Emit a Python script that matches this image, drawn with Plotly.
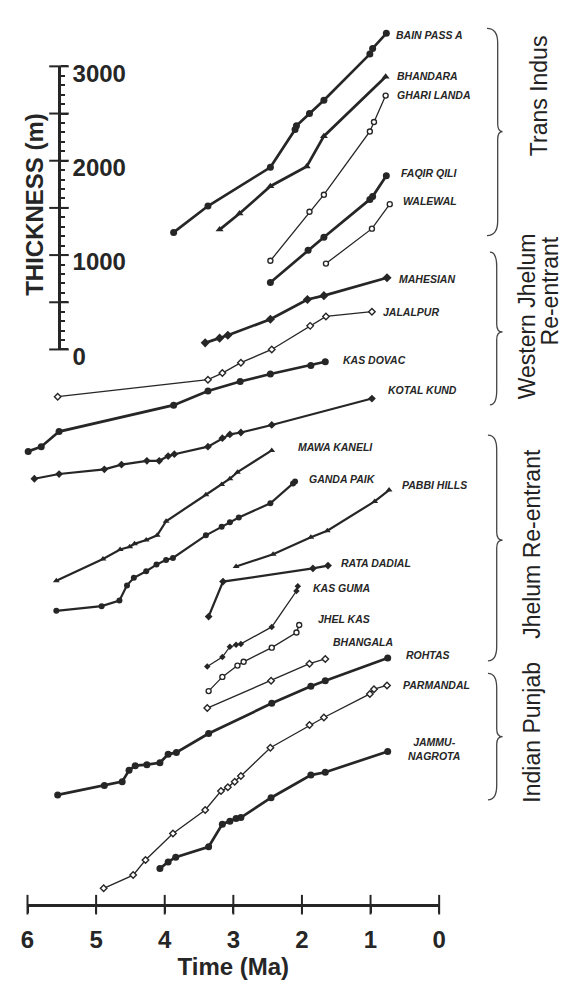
import plotly.graph_objects as go

# ---------------- data (time in Ma, stacked thickness position in m) ----------------
bain_t = [3.87, 3.37, 2.46, 2.10, 2.08, 1.89, 1.68, 1.01, 0.97, 0.77]
bain_m = [1240, 1520, 1930, 2330, 2370, 2500, 2640, 3130, 3190, 3350]
bhandara_t = [3.20, 2.91, 2.46, 1.93, 1.68, 0.78]
bhandara_m = [1270, 1440, 1730, 1940, 2260, 2890]
ghari_t = [2.46, 1.89, 1.68, 1.01, 0.95, 0.78]
ghari_m = [940, 1460, 1640, 2310, 2410, 2690]
faqir_t = [2.46, 1.91, 1.68, 1.01, 0.97, 0.77]
faqir_m = [710, 1050, 1190, 1590, 1620, 1840]
walewal_t = [1.65, 0.98, 0.72]
walewal_m = [910, 1280, 1540]
mahesian_t = [3.41, 3.20, 3.08, 2.46, 1.92, 1.68, 0.76]
mahesian_m = [70, 120, 150, 320, 530, 570, 760]
jalalpur_t = [5.56, 3.37, 3.16, 2.89, 2.44, 1.88, 1.65, 0.98]
jalalpur_m = [-500, -320, -250, -140, 0, 250, 350, 400]
kasdovac_t = [5.99, 5.80, 5.54, 3.87, 3.37, 2.90, 2.46, 1.87, 1.66]
kasdovac_m = [-1080, -1030, -870, -590, -440, -340, -260, -170, -130]
kotal_t = [5.90, 5.54, 4.88, 4.63, 4.26, 4.08, 3.95, 3.86, 3.37, 3.16, 3.05, 2.89, 2.44, 0.98]
kotal_m = [-1370, -1320, -1270, -1220, -1180, -1180, -1130, -1110, -1030, -940, -900, -880, -800, -520]
mawa_t = [5.58, 4.90, 4.65, 4.51, 4.44, 4.27, 4.11, 3.98, 3.40, 3.17, 3.05, 2.94, 2.44]
mawa_m = [-2450, -2220, -2120, -2090, -2060, -2020, -1970, -1820, -1540, -1430, -1370, -1300, -1070]
ganda_t = [5.58, 4.92, 4.66, 4.55, 4.45, 4.27, 4.12, 3.98, 3.88, 3.40, 3.17, 3.05, 2.92, 2.46, 2.13, 2.10]
ganda_m = [-2770, -2720, -2660, -2500, -2420, -2350, -2280, -2230, -2210, -1970, -1880, -1830, -1780, -1630, -1420, -1400]
pabbi_t = [2.96, 2.42, 1.87, 1.63, 0.94, 0.73]
pabbi_m = [-2300, -2170, -1990, -1920, -1610, -1490]
rata_t = [3.36, 3.15, 1.84, 1.62]
rata_m = [-2830, -2460, -2320, -2290]
kasguma_t = [3.38, 3.16, 3.05, 2.96, 2.89, 2.44, 2.08, 2.06]
kasguma_m = [-3360, -3260, -3150, -3130, -3120, -2940, -2560, -2510]
jhelkas_t = [3.36, 3.16, 2.94, 2.85, 2.44, 2.08, 2.04]
jhelkas_m = [-3620, -3470, -3350, -3310, -3160, -3000, -2920]
bhangala_t = [3.38, 2.45, 1.89, 1.66]
bhangala_m = [-3800, -3510, -3330, -3280]
rohtas_t = [5.56, 4.88, 4.62, 4.52, 4.43, 4.26, 4.07, 3.95, 3.83, 3.36, 2.44, 1.87, 1.66, 0.75]
rohtas_m = [-4720, -4620, -4580, -4460, -4410, -4400, -4380, -4290, -4270, -4070, -3750, -3570, -3510, -3270]
parmandal_t = [4.89, 4.46, 4.28, 3.88, 3.41, 3.18, 3.08, 2.98, 2.89, 2.46, 1.89, 1.68, 1.01, 0.95, 0.76]
parmandal_m = [-5710, -5570, -5410, -5130, -4880, -4680, -4640, -4580, -4520, -4220, -3980, -3900, -3650, -3600, -3560]
jammu_t = [4.07, 3.95, 3.84, 3.36, 3.16, 3.05, 2.96, 2.89, 2.45, 1.87, 1.66, 0.75]
jammu_m = [-5500, -5430, -5380, -5270, -5030, -5000, -4970, -4960, -4750, -4510, -4480, -4260]

time_ticks = [6, 5, 4, 3, 2, 1, 0]
thick_ticks = [0, 500, 1000, 1500, 2000, 2500, 3000]
thick_labels = ["0", "", "1000", "", "2000", "", "3000"]

group_names = ["Trans Indus", "Western Jhelum", "Re-entrant", "Jhelum Re-entrant", "Indian Punjab"]

# ---------------- geometry (pixel layout of the 572 x 996 page) ----------------
W, H = 572, 996
PX_T0, PX_PER_MA = 443.0, 70.33        # x pixel of 0 Ma, pixels per Ma
PY_M0, PX_PER_M = 352.0, 0.097         # y pixel of 0 m on scale, pixels per metre


def t_of(px):
    return (PX_T0 - px) / PX_PER_MA


def m_of(py):
    return (PY_M0 - py) / PX_PER_M


INK = "#262626"
FONT = "Liberation Sans, Arial, Helvetica, sans-serif"

STY = {
    "thick": dict(w=2.7, s=7),
    "med": dict(w=2.2, s=6),
    "thin": dict(w=1.3, s=5),
}

series = [
    ("BAIN PASS A", bain_t, bain_m, "thick", "circle", False, (8, 2)),
    ("BHANDARA", bhandara_t, bhandara_m, "thick", "triangle-up", False, (9, -1)),
    ("GHARI LANDA", ghari_t, ghari_m, "thin", "circle", True, (9, -1)),
    ("FAQIR QILI", faqir_t, faqir_m, "thick", "circle", False, (13, -3)),
    ("WALEWAL", walewal_t, walewal_m, "thin", "circle", True, (11, -3)),
    ("MAHESIAN", mahesian_t, mahesian_m, "thick", "diamond", False, (10, 1)),
    ("JALALPUR", jalalpur_t, jalalpur_m, "thin", "diamond", True, (9, 0)),
    ("KAS DOVAC", kasdovac_t, kasdovac_m, "thick", "circle", False, (16, -2)),
    ("KOTAL KUND", kotal_t, kotal_m, "med", "diamond", False, (14, -9)),
    ("MAWA KANELI", mawa_t, mawa_m, "med", "triangle-up", False, (24, -3)),
    ("GANDA PAIK", ganda_t, ganda_m, "med", "circle", False, (12, -3)),
    ("PABBI HILLS", pabbi_t, pabbi_m, "med", "triangle-up", False, (11, -5)),
    ("RATA DADIAL", rata_t, rata_m, "med", "diamond", False, (11, -3)),
    ("KAS GUMA", kasguma_t, kasguma_m, "thin", "diamond", False, (13, 2)),
    ("JHEL KAS", jhelkas_t, jhelkas_m, "thin", "circle", True, (17, -6)),
    ("BHANGALA", bhangala_t, bhangala_m, "thin", "diamond", True, (6, -17)),
    ("ROHTAS", rohtas_t, rohtas_m, "thick", "circle", False, (16, -3)),
    ("PARMANDAL", parmandal_t, parmandal_m, "thin", "diamond", True, (14, 0)),
    ("JAMMU-<br>NAGROTA", jammu_t, jammu_m, "thick", "circle", False, (18, -2)),
]

fig = go.Figure()

for name, tt, mm, sty, sym, hollow, (dx, dy) in series:
    st = STY[sty]
    fig.add_trace(go.Scatter(
        x=tt, y=mm, mode="lines+markers", name=name.replace("<br>", " "),
        line=dict(color=INK, width=st["w"]),
        marker=dict(symbol=sym, size=st["s"],
                    color="white" if hollow else INK,
                    line=dict(color=INK, width=1.4 if hollow else 0)),
        cliponaxis=False, showlegend=False,
    ))
    fig.add_annotation(
        x=tt[-1], y=mm[-1], xref="x", yref="y", text=f"<b><i>{name}</i></b>",
        showarrow=False, xanchor="left", yanchor="middle", xshift=dx, yshift=-dy,
        align="center", font=dict(family=FONT, size=10.5, color=INK),
    )

# time-axis crossing tick marks (on the real time axis)
axis_py = 922.7
fig.add_trace(go.Scatter(
    x=time_ticks, y=[m_of(axis_py)] * len(time_ticks), xaxis="x2", yaxis="y",
    mode="markers", marker=dict(symbol="line-ns", size=14, line=dict(color=INK, width=2)),
    cliponaxis=False, showlegend=False, hoverinfo="skip",
))
# thickness scale crossing major ticks (on the real thickness axis)
bar_px = 53.3
fig.add_trace(go.Scatter(
    x=[t_of(bar_px)] * len(thick_ticks), y=thick_ticks, xaxis="x", yaxis="y2",
    mode="markers", marker=dict(symbol="line-ew", size=14, line=dict(color=INK, width=2)),
    cliponaxis=False, showlegend=False, hoverinfo="skip",
))

# ---------------- braces ----------------
def P(px, py):
    return f"{px / W:.5f},{1 - py / H:.5f}"


def brace(xl, xm, xt, yt, yc, yb, re=15, rt=8):
    return (f"M{P(xl, yt)} Q{P(xm, yt)} {P(xm, yt + re)} L{P(xm, yc - rt)} "
            f"Q{P(xm, yc)} {P(xt, yc)} Q{P(xm, yc)} {P(xm, yc + rt)} "
            f"L{P(xm, yb - re)} Q{P(xm, yb)} {P(xl, yb)}")


for b in [(492, 503, 508, 22, 128, 235), (495, 502, 508, 252, 334, 409),
          (493, 502, 508, 440, 548, 672), (493, 502, 508, 685, 750, 815)]:
    fig.add_shape(type="path", path=brace(*b), xref="paper", yref="paper",
                  line=dict(color="#444444", width=1.3))

# ---------------- group labels ----------------
for txt, px, py in zip(group_names, [545, 533, 557, 538, 538], [91, 318, 292, 552, 745]):
    fig.add_annotation(x=px / W, y=1 - py / H, xref="paper", yref="paper", text=txt,
                       textangle=-90, showarrow=False, xanchor="center", yanchor="middle",
                       font=dict(family=FONT, size=23, color="#222222"))

fig.add_annotation(x=28 / W, y=1 - 203 / H, xref="paper", yref="paper", text="<b>THICKNESS (m)</b>",
                   textangle=-90, showarrow=False, xanchor="center", yanchor="middle",
                   font=dict(family=FONT, size=24, color=INK))

fig.update_layout(
    width=W, height=H, autosize=False,
    margin=dict(l=0, r=0, t=0, b=0),
    paper_bgcolor="white", plot_bgcolor="rgba(0,0,0,0)",
    xaxis=dict(domain=[0, 1], range=[t_of(0), t_of(W)], visible=False),
    yaxis=dict(domain=[0, 1], range=[m_of(H), m_of(0)], visible=False),
    xaxis2=dict(domain=[(PX_T0 - 6 * PX_PER_MA) / W, PX_T0 / W], range=[6, 0],
                anchor="free", position=1 - axis_py / H,
                showline=True, linecolor=INK, linewidth=2.5,
                ticks="outside", ticklen=7, tickwidth=2, tickcolor=INK,
                ticklabelstandoff=6,
                tickvals=time_ticks, ticktext=[str(v) for v in time_ticks],
                tickfont=dict(family=FONT, size=24, color=INK, weight="bold"),
                title=dict(text="<b>Time (Ma)</b>", standoff=2,
                           font=dict(family=FONT, size=24, color=INK)),
                showgrid=False, zeroline=False),
    yaxis2=dict(domain=[1 - PY_M0 / H, 1 - (PY_M0 - 3000 * PX_PER_M) / H], range=[0, 3000],
                anchor="free", position=bar_px / W, side="right",
                showline=True, linecolor=INK, linewidth=2.5,
                ticks="outside", ticklen=7, tickwidth=2, tickcolor=INK,
                ticklabelshift=7,
                tickvals=thick_ticks, ticktext=thick_labels,
                minor=dict(dtick=100, ticks="outside", ticklen=4, tickwidth=1.5, tickcolor=INK),
                tickfont=dict(family=FONT, size=24, color=INK, weight="bold"),
                showgrid=False, zeroline=False),
)

fig.write_html("out.html", config={"displayModeBar": False},
               post_script="document.body.style.margin='0';")
